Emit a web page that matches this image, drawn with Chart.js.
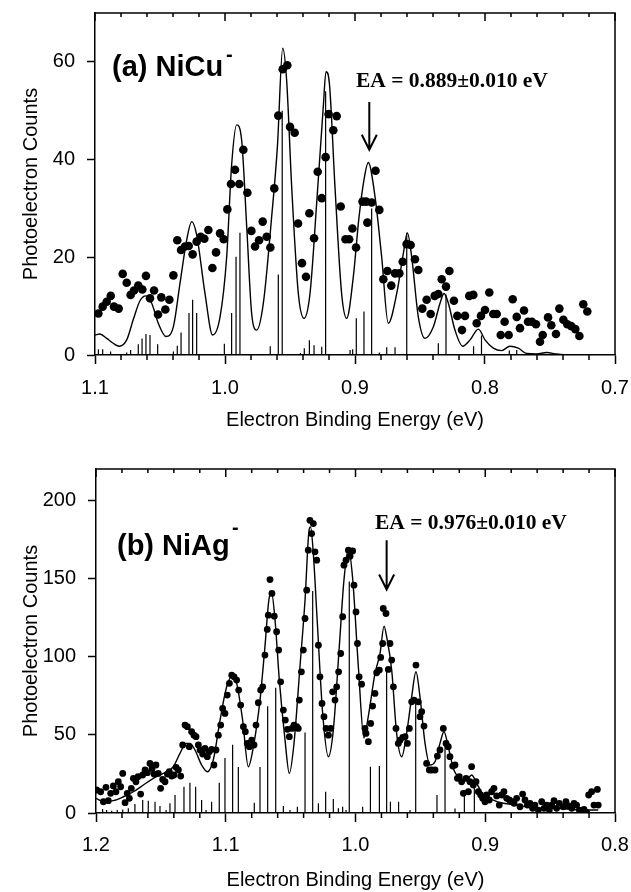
<!DOCTYPE html>
<html><head><meta charset="utf-8">
<script src="https://cdn.jsdelivr.net/npm/chart.js@4.4.1/dist/chart.umd.min.js"></script>
<style>
html,body{margin:0;padding:0;background:#fff;}
#wrap{position:relative;width:631px;height:892px;overflow:hidden;background:#fff;}
canvas{position:absolute;left:0;}
#cA{top:0;} #cB{top:440px;}
</style></head><body>
<div id="wrap"><canvas id="cA" width="631" height="440"></canvas><canvas id="cB" width="631" height="452"></canvas></div>
<script>
// ---------- tick values ----------
const xTicksA = [0.7, 0.8, 0.9, 1.0, 1.1];
const xMinorA = [0.72,0.74,0.76,0.78,0.82,0.84,0.86,0.88,0.92,0.94,0.96,0.98,1.02,1.04,1.06,1.08];
const yTicksA = [0, 20, 40, 60];
const xTicksB = [0.8, 0.9, 1.0, 1.1, 1.2];
const xMinorB = [0.82,0.84,0.86,0.88,0.92,0.94,0.96,0.98,1.02,1.04,1.06,1.08,1.12,1.14,1.16,1.18];
const yTicksB = [0, 50, 100, 150, 200];

// ---------- (a) NiCu- : measured points [E, counts] ----------
const niCuPoints = [[1.0974,8.5],[1.0941,9.9],[1.0910,10.9],[1.0879,12.1],[1.0854,9.9],[1.0818,9.5],[1.0787,16.6],[1.0756,14.8],[1.0726,12.3],[1.0700,13.2],[1.0667,14.2],[1.0636,13.4],[1.0608,16.2],[1.0577,11.6],[1.0546,13.2],[1.0515,8.3],[1.0490,11.8],[1.0459,9.3],[1.0428,11.3],[1.0397,16.3],[1.0367,23.5],[1.0338,21.5],[1.0308,22.2],[1.0279,22.3],[1.0249,20.6],[1.0218,23.2],[1.0187,24.2],[1.0159,23.8],[1.0128,25.6],[1.0097,17.8],[1.0069,21.0],[1.0038,24.9],[1.0010,23.7],[0.9982,29.8],[0.9954,35.0],[0.9923,37.9],[0.9890,35.0],[0.9859,42.0],[0.9828,33.2],[0.9797,25.4],[0.9769,22.2],[0.9738,23.5],[0.9710,27.3],[0.9679,24.2],[0.9651,22.0],[0.9621,34.1],[0.9590,49.0],[0.9556,58.5],[0.9521,59.3],[0.9500,46.7],[0.9464,45.5],[0.9438,26.9],[0.9408,18.8],[0.9377,16.0],[0.9351,29.0],[0.9315,23.9],[0.9287,37.5],[0.9256,32.1],[0.9226,40.5],[0.9203,49.3],[0.9167,46.0],[0.9141,48.9],[0.9110,30.4],[0.9073,23.7],[0.9045,23.7],[0.9020,25.9],[0.8992,22.0],[0.8942,31.4],[0.8914,31.4],[0.8905,27.1],[0.8872,31.2],[0.8842,37.7],[0.8813,29.7],[0.8782,15.5],[0.8751,17.2],[0.8721,14.2],[0.8692,16.7],[0.8659,16.7],[0.8633,19.1],[0.8603,22.7],[0.8572,22.5],[0.8539,19.6],[0.8513,17.4],[0.8482,9.5],[0.8449,11.3],[0.8418,8.4],[0.8387,12.1],[0.8359,12.5],[0.8333,15.5],[0.8300,14.0],[0.8274,17.2],[0.8239,11.1],[0.8213,8.0],[0.8177,5.1],[0.8154,8.0],[0.8121,12.1],[0.8090,12.3],[0.8064,6.5],[0.8031,8.0],[0.8000,9.2],[0.7967,12.8],[0.7936,8.4],[0.7910,8.4],[0.7879,4.1],[0.7849,6.8],[0.7818,4.1],[0.7787,11.4],[0.7756,7.8],[0.7731,5.5],[0.7700,9.1],[0.7669,6.8],[0.7639,6.8],[0.7608,6.3],[0.7577,2.7],[0.7556,4.1],[0.7515,7.7],[0.7490,6.1],[0.7454,4.3],[0.7428,9.5],[0.7397,7.2],[0.7367,6.3],[0.7336,5.9],[0.7305,5.3],[0.7274,3.9],[0.7244,10.4],[0.7213,8.9]];
// simulated spectrum
const niCuCurve = [[1.1000,4.1],[1.0962,4.3],[1.0910,3.4],[1.0860,2.4],[1.0813,1.8],[1.0756,3.1],[1.0705,7.3],[1.0654,11.1],[1.0608,12.1],[1.0564,10.6],[1.0513,6.5],[1.0454,3.8],[1.0397,5.8],[1.0346,14.7],[1.0295,23.5],[1.0256,27.3],[1.0218,24.6],[1.0154,12.6],[1.0095,4.1],[1.0038,7.8],[0.9987,20.1],[0.9949,38.9],[0.9910,47.1],[0.9872,44.0],[0.9833,26.3],[0.9795,8.5],[0.9756,5.1],[0.9705,10.6],[0.9641,28.3],[0.9597,42.6],[0.9556,62.8],[0.9526,56.3],[0.9487,34.4],[0.9436,12.6],[0.9392,7.5],[0.9346,12.6],[0.9295,31.0],[0.9244,50.8],[0.9223,58.0],[0.9197,55.6],[0.9154,34.4],[0.9103,12.6],[0.9064,7.5],[0.9013,16.0],[0.8970,28.0],[0.8930,36.0],[0.8898,39.4],[0.8846,32.4],[0.8795,20.1],[0.8744,6.5],[0.8679,12.6],[0.8628,20.8],[0.8597,25.0],[0.8564,20.1],[0.8513,7.8],[0.8462,3.4],[0.8397,5.8],[0.8346,10.6],[0.8315,12.6],[0.8282,10.6],[0.8231,5.1],[0.8172,1.8],[0.8115,3.1],[0.8051,5.3],[0.8000,3.1],[0.7936,1.4],[0.7872,0.9],[0.7808,1.8],[0.7744,1.4],[0.7679,0.3],[0.7603,0.2],[0.7526,0.5],[0.7449,0.2],[0.7346,0.0],[0.7190,0.0]];
// Franck-Condon stick spectrum
const niCuSticks = [[1.0974,1.2],[1.0941,1.2],[1.0880,0.7],[1.0756,0.5],[1.0726,1.0],[1.0667,2.2],[1.0638,3.4],[1.0608,4.3],[1.0577,4.1],[1.0518,2.2],[1.0397,0.7],[1.0367,1.9],[1.0338,4.6],[1.0277,8.6],[1.0249,11.3],[1.0218,8.6],[1.0005,2.3],[0.9949,8.6],[0.9915,20.1],[0.9885,25.0],[0.9652,1.8],[0.9590,16.5],[0.9560,50.0],[0.9420,0.4],[0.9390,1.4],[0.9351,3.0],[0.9315,2.0],[0.9256,1.7],[0.9226,54.0],[0.9038,1.0],[0.9018,1.2],[0.8990,7.5],[0.8931,8.9],[0.8872,30.0],[0.8813,0.5],[0.8756,1.6],[0.8692,1.6],[0.8602,25.0],[0.8359,2.4],[0.8300,12.4],[0.8088,1.8],[0.8027,4.0],[0.7813,0.9],[0.7756,1.0]];

// ---------- (b) NiAg- ----------
const niAgPoints = [[1.1995,14.7],[1.1964,13.6],[1.1943,7.2],[1.1923,16.4],[1.1905,7.9],[1.1887,12.6],[1.1866,17.3],[1.1846,13.6],[1.1828,20.0],[1.1810,16.8],[1.1794,25.3],[1.1776,6.6],[1.1759,12.6],[1.1743,9.4],[1.1728,15.8],[1.1712,22.2],[1.1692,20.0],[1.1676,23.2],[1.1656,12.1],[1.1640,24.3],[1.1622,27.5],[1.1604,25.8],[1.1584,31.7],[1.1568,28.5],[1.1553,24.9],[1.1538,30.7],[1.1520,25.3],[1.1502,15.8],[1.1486,21.5],[1.1468,20.0],[1.1450,24.9],[1.1435,26.4],[1.1417,23.6],[1.1399,24.3],[1.1383,29.2],[1.1365,27.5],[1.1347,23.6],[1.1332,43.5],[1.1314,56.2],[1.1296,55.2],[1.1281,42.4],[1.1263,52.0],[1.1245,49.8],[1.1229,48.8],[1.1211,43.5],[1.1198,40.3],[1.1178,37.7],[1.1160,41.3],[1.1142,36.0],[1.1127,39.2],[1.1109,40.7],[1.1091,30.7],[1.1075,40.3],[1.1057,49.8],[1.1039,56.2],[1.1024,66.9],[1.1006,63.7],[1.0988,75.4],[1.0972,82.9],[1.0954,88.2],[1.0936,87.1],[1.0916,85.0],[1.0900,78.6],[1.0885,69.0],[1.0864,55.2],[1.0849,52.0],[1.0834,44.5],[1.0818,42.4],[1.0800,46.6],[1.0782,43.5],[1.0767,56.2],[1.0749,70.5],[1.0731,78.6],[1.0715,80.7],[1.0698,101.0],[1.0680,117.4],[1.0672,126.5],[1.0659,149.3],[1.0644,140.4],[1.0626,125.9],[1.0608,115.9],[1.0592,104.2],[1.0577,83.9],[1.0556,65.8],[1.0541,59.4],[1.0525,53.5],[1.0510,48.8],[1.0489,54.1],[1.0474,56.2],[1.0453,55.2],[1.0441,54.1],[1.0433,72.2],[1.0417,90.3],[1.0402,104.2],[1.0389,124.4],[1.0376,142.5],[1.0364,168.1],[1.0351,187.2],[1.0338,178.7],[1.0325,185.1],[1.0312,167.0],[1.0299,161.7],[1.0286,107.3],[1.0274,87.1],[1.0258,70.1],[1.0243,61.6],[1.0227,54.1],[1.0209,49.8],[1.0191,54.1],[1.0176,77.5],[1.0158,72.2],[1.0145,80.7],[1.0130,90.3],[1.0114,102.0],[1.0099,125.5],[1.0089,158.5],[1.0073,161.7],[1.0055,168.1],[1.0042,164.2],[1.0022,167.6],[1.0012,145.7],[0.9996,128.6],[0.9985,108.4],[0.9972,87.1],[0.9953,82.4],[0.9927,54.1],[0.9919,50.9],[0.9901,45.6],[0.9883,57.3],[0.9868,68.4],[0.9850,76.5],[0.9837,89.7],[0.9816,91.4],[0.9806,99.5],[0.9791,108.4],[0.9786,130.8],[0.9765,127.6],[0.9747,91.8],[0.9734,108.4],[0.9721,97.8],[0.9708,80.7],[0.9688,54.1],[0.9670,44.5],[0.9657,46.6],[0.9636,48.4],[0.9618,48.8],[0.9600,44.5],[0.9585,54.1],[0.9567,71.1],[0.9549,72.2],[0.9534,94.6],[0.9516,71.1],[0.9503,61.6],[0.9490,64.8],[0.9472,55.6],[0.9452,31.7],[0.9431,27.5],[0.9413,27.5],[0.9387,27.5],[0.9369,36.4],[0.9349,40.3],[0.9323,54.1],[0.9302,44.5],[0.9285,42.4],[0.9272,36.0],[0.9251,30.0],[0.9233,30.7],[0.9215,22.2],[0.9200,23.2],[0.9182,20.0],[0.9169,12.6],[0.9148,22.2],[0.9130,13.6],[0.9118,20.0],[0.9105,29.6],[0.9092,17.9],[0.9071,20.0],[0.9053,13.6],[0.9035,11.5],[0.9020,9.4],[0.9002,7.2],[0.8989,11.5],[0.8969,8.3],[0.8951,13.6],[0.8933,15.8],[0.8912,10.9],[0.8892,5.1],[0.8874,11.5],[0.8856,13.6],[0.8835,9.4],[0.8814,8.3],[0.8796,7.2],[0.8778,6.2],[0.8758,9.4],[0.8732,4.0],[0.8712,12.1],[0.8694,8.3],[0.8676,5.1],[0.8655,6.2],[0.8635,3.0],[0.8617,5.1],[0.8591,1.9],[0.8565,7.2],[0.8547,3.0],[0.8527,5.1],[0.8506,1.9],[0.8488,5.1],[0.8470,7.9],[0.8450,3.0],[0.8429,6.2],[0.8398,4.0],[0.8378,7.2],[0.8360,4.5],[0.8334,3.0],[0.8316,6.2],[0.8296,5.1],[0.8275,1.9],[0.8257,0.9],[0.8239,2.3],[0.8218,0.3],[0.8203,11.5],[0.8180,13.6],[0.8162,5.1],[0.8136,15.1],[0.8129,5.1]];
const niAgCurve = [[1.2000,9.4],[1.1943,7.2],[1.1866,7.9],[1.1789,10.4],[1.1712,13.6],[1.1635,17.9],[1.1558,22.2],[1.1481,25.3],[1.1404,29.6],[1.1353,38.1],[1.1306,44.5],[1.1276,44.5],[1.1237,40.3],[1.1186,30.7],[1.1142,26.4],[1.1096,33.9],[1.1044,59.4],[1.0993,80.7],[1.0954,87.1],[1.0916,82.9],[1.0870,59.4],[1.0826,29.6],[1.0787,42.4],[1.0736,72.2],[1.0698,106.3],[1.0664,138.2],[1.0646,140.4],[1.0620,123.3],[1.0587,85.0],[1.0543,46.6],[1.0510,25.3],[1.0474,44.5],[1.0428,93.5],[1.0389,136.1],[1.0358,180.8],[1.0346,183.0],[1.0325,165.9],[1.0294,121.2],[1.0253,63.7],[1.0209,36.0],[1.0171,53.0],[1.0125,106.3],[1.0089,148.9],[1.0055,169.1],[1.0022,150.0],[0.9978,93.5],[0.9935,48.0],[0.9901,62.0],[0.9850,89.2],[0.9811,102.0],[0.9780,119.5],[0.9760,112.7],[0.9721,91.4],[0.9683,50.9],[0.9644,36.0],[0.9606,50.9],[0.9567,74.3],[0.9534,90.3],[0.9503,74.3],[0.9464,44.5],[0.9426,30.7],[0.9387,32.8],[0.9349,44.5],[0.9318,52.0],[0.9285,42.4],[0.9246,28.5],[0.9195,22.2],[0.9143,21.1],[0.9105,24.3],[0.9066,19.0],[0.9015,11.5],[0.8938,8.3],[0.8861,6.2],[0.8758,5.1],[0.8655,3.6],[0.8552,3.0],[0.8450,3.0],[0.8347,2.3],[0.8244,1.9],[0.8129,1.9]];
const niAgSticks = [[1.1949,2.6],[1.1918,1.9],[1.1879,1.5],[1.1836,1.9],[1.1794,2.3],[1.1751,3.0],[1.1700,5.8],[1.1640,8.3],[1.1597,7.9],[1.1545,7.2],[1.1507,4.5],[1.1460,1.9],[1.1430,6.2],[1.1391,11.5],[1.1322,16.8],[1.1276,19.4],[1.1232,16.8],[1.1186,8.3],[1.1152,1.9],[1.1109,7.2],[1.1050,19.4],[1.1006,35.1],[1.0947,43.6],[1.0903,29.4],[1.0780,6.6],[1.0736,29.4],[1.0677,68.2],[1.0615,80.1],[1.0556,4.5],[1.0505,1.9],[1.0448,4.0],[1.0389,51.5],[1.0330,142.0],[1.0286,6.2],[1.0230,13.6],[1.0171,8.9],[1.0132,3.0],[1.0099,4.0],[1.0073,1.9],[1.0048,148.0],[0.9945,4.0],[0.9885,29.5],[0.9816,30.0],[0.9760,93.0],[0.9731,7.2],[0.9668,7.2],[0.9580,1.9],[0.9536,71.0],[0.9372,11.5],[0.9310,44.0],[0.9233,2.8],[0.9161,14.7],[0.9084,16.8]];

function toXY(arr){ return arr.map(p => ({x:p[0], y:p[1]})); }
function toSticks(arr){ const out=[]; arr.forEach(p => { out.push({x:p[0],y:0},{x:p[0],y:p[1]},{x:p[0],y:null}); }); return out; }

const FONT = '"Liberation Sans", Arial, Helvetica, sans-serif';
Chart.defaults.font.family = FONT;
Chart.defaults.color = '#000';

const decor = {
  id: 'decor',
  afterDraw(chart, args, o) {
    const {ctx, chartArea: a, scales: {x, y}} = chart;
    ctx.save();
    ctx.strokeStyle = '#000';
    ctx.lineWidth = 1.5;
    ctx.beginPath();
    ctx.moveTo(a.left, a.top); ctx.lineTo(a.right, a.top); ctx.lineTo(a.right, a.bottom);
    ctx.stroke();
    ctx.beginPath();
    o.major.forEach(v => { const px = x.getPixelForValue(v); ctx.moveTo(px, a.top); ctx.lineTo(px, a.top + 8); });
    o.minor.forEach(v => { const px = x.getPixelForValue(v); ctx.moveTo(px, a.top); ctx.lineTo(px, a.top + 4); });
    o.minor.forEach(v => { const px = x.getPixelForValue(v); ctx.moveTo(px, a.bottom); ctx.lineTo(px, a.bottom + 5); });
    ctx.stroke();
    // arrow at EA
    const ax = x.getPixelForValue(o.arrowE), ay1 = y.getPixelForValue(o.arrowFrom), ay2 = y.getPixelForValue(o.arrowTo);
    ctx.lineWidth = 2;
    ctx.beginPath();
    ctx.moveTo(ax, ay1); ctx.lineTo(ax, ay2);
    ctx.moveTo(ax - 7.5, ay2 - 15); ctx.lineTo(ax, ay2); ctx.lineTo(ax + 7.5, ay2 - 15);
    ctx.stroke();
    // texts
    ctx.fillStyle = '#000'; ctx.textAlign = 'left'; ctx.textBaseline = 'alphabetic';
    ctx.font = 'bold 29px ' + FONT;
    ctx.fillText(o.label, o.labelX, o.labelY);
    ctx.font = 'bold 20px ' + FONT;
    ctx.fillText('-', o.supX, o.supY);
    ctx.font = 'bold 21.5px "Liberation Serif", "Times New Roman", serif';
    ctx.fillText(o.ea, o.eaX, o.eaY);
    ctx.restore();
  }
};

function makeChart(id, p) {
  return new Chart(document.getElementById(id), {
    type: 'scatter',
    data: { datasets: [
      { label: 'data', data: toXY(p.points), showLine: false, pointRadius: p.r, pointHoverRadius: p.r,
        backgroundColor: '#000', borderColor: '#000', borderWidth: 0, order: 0 },
      { label: 'sim', type: 'line', data: toXY(p.curve), showLine: true, pointRadius: 0, borderColor: '#000',
        borderWidth: 1.4, cubicInterpolationMode: 'monotone', fill: false, order: 1 },
      { label: 'sticks', type: 'line', data: toSticks(p.sticks), showLine: true, spanGaps: false, pointRadius: 0,
        borderColor: '#000', borderWidth: 1.2, tension: 0, fill: false, order: 2 }
    ]},
    options: {
      responsive: false, animation: false, devicePixelRatio: 1,
      layout: { padding: { left: 0, right: p.padRight, top: p.padTop, bottom: 0 } },
      plugins: { legend: { display: false }, tooltip: { enabled: false }, decor: p.decor },
      scales: {
        x: {
          type: 'linear', position: 'bottom', min: p.xmin, max: p.xmax, reverse: true,
          afterBuildTicks: s => { s.ticks = p.xTicks.map(v => ({ value: v })); },
          afterFit: s => { s.height = p.xAxisH; s.paddingLeft = 0; s.paddingRight = 0; },
          ticks: { font: { size: 20 }, color: '#000', padding: p.xLabPad, maxRotation: 0, minRotation: 0, autoSkip: false,
                   callback: v => Number(v).toFixed(1) },
          grid: { display: true, drawOnChartArea: false, drawTicks: true, tickLength: 9, tickColor: '#000', tickWidth: 1.5, color: '#000' },
          border: { display: true, color: '#000', width: 1.5 },
          title: { display: true, text: 'Electron Binding Energy (eV)', color: '#000', font: { size: 20 }, padding: { top: 0, bottom: p.xTitlePad } }
        },
        y: {
          type: 'linear', position: 'left', min: 0, max: p.ymax,
          afterBuildTicks: s => { s.ticks = p.yTicks.map(v => ({ value: v })); },
          afterFit: s => { s.width = p.yAxisW; s.paddingTop = 0; s.paddingBottom = 0; },
          ticks: { font: { size: 20 }, color: '#000', padding: 12, callback: v => String(v) },
          grid: { display: true, drawOnChartArea: false, drawTicks: true, tickLength: 8, tickColor: '#000', tickWidth: 1.5, color: '#000' },
          border: { display: true, color: '#000', width: 1.5 },
          title: { display: true, text: 'Photoelectron Counts', color: '#000', font: { size: 20 }, padding: { top: 19, bottom: 0 } }
        }
      }
    },
    plugins: [decor]
  });
}

makeChart('cA', {
  points: niCuPoints, curve: niCuCurve, sticks: niCuSticks, r: 4.3,
  xmin: 0.7, xmax: 1.1, ymax: 70, xTicks: xTicksA, yTicks: yTicksA,
  padTop: 13, padRight: 16, xAxisH: 85, yAxisW: 95, xLabPad: 12, xTitlePad: 8,
  decor: { major: xTicksA, minor: xMinorA, arrowE: 0.889, arrowFrom: 51.8, arrowTo: 42.0,
           label: '(a) NiCu', labelX: 112, labelY: 76, supX: 226, supY: 61,
           ea: 'EA = 0.889\u00B10.010 eV', eaX: 356, eaY: 87 }
});
makeChart('cB', {
  points: niAgPoints, curve: niAgCurve, sticks: niAgSticks, r: 3.4,
  xmin: 0.8, xmax: 1.2, ymax: 220, xTicks: xTicksB, yTicks: yTicksB,
  padTop: 29, padRight: 16, xAxisH: 79, yAxisW: 96, xLabPad: 11, xTitlePad: 0,
  decor: { major: xTicksB, minor: xMinorB, arrowE: 0.976, arrowFrom: 174.4, arrowTo: 142.9,
           label: '(b) NiAg', labelX: 117, labelY: 115, supX: 232, supY: 94,
           ea: 'EA = 0.976\u00B10.010 eV', eaX: 375, eaY: 89 }
});
</script>
</body></html>
